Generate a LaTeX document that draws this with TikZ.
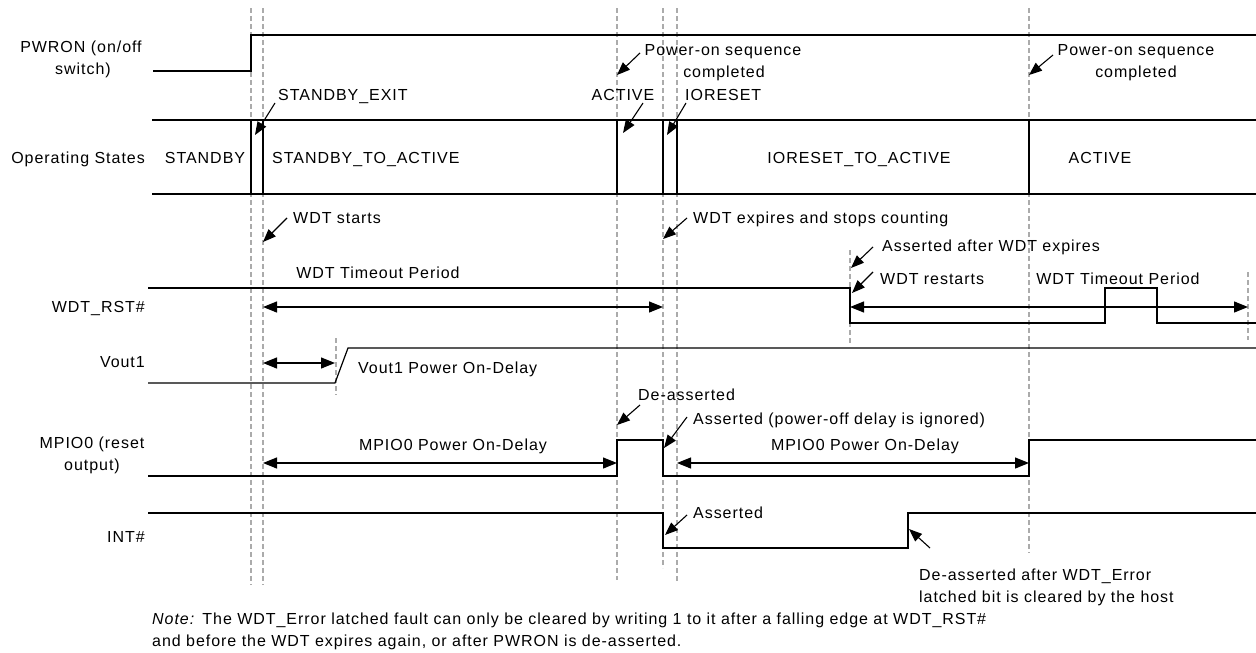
\documentclass[tikz,border=0pt]{standalone}
\usepackage{fontspec}
\setmainfont{Liberation Sans}[LetterSpace=6]
\usetikzlibrary{arrows.meta}
\begin{document}
\begin{tikzpicture}[x=1pt,y=-1pt,
  sig/.style={line width=1.2pt},
  guide/.style={draw=black!33, line width=1.3pt, dash pattern=on 5pt off 3pt},
  dim/.style={line width=1.2pt, {Triangle[length=14pt,width=11pt]}-{Triangle[length=14pt,width=11pt]}},
  pt/.style={line width=1.1pt, -{Triangle[length=13pt,width=10pt]}},
  lbl/.style={inner sep=0pt, font=\fontsize{16}{19}\selectfont, text height=11.5pt, text depth=0pt},
]
\useasboundingbox (0,0) rectangle (1256,653);

% guide lines
\draw[guide] (251,8) -- (251,585);
\draw[guide] (263,8) -- (263,585);
\draw[guide] (617,8) -- (617,580);
\draw[guide] (663,8) -- (663,568);
\draw[guide] (677,8) -- (677,583);
\draw[guide] (1029,8) -- (1029,553);
\draw[guide] (850,250) -- (850,343);
\draw[guide] (1248,272) -- (1248,340);
\draw[guide] (336,338) -- (336,395);

% signals
\draw[sig] (153,71) -- (251,71) -- (251,35) -- (1256,35);
\draw[sig] (152,120) -- (1256,120);
\draw[sig] (152,194) -- (1256,194);
\foreach \x in {251,263,617,663,677,1029} \draw[sig] (\x,120) -- (\x,194);
\draw[sig] (148,288) -- (850,288) -- (850,323) -- (1105,323) -- (1105,288) -- (1157,288) -- (1157,323) -- (1256,323);
\draw[sig] (148,383) -- (335,383) -- (348,348) -- (1256,348);
\draw[sig] (148,476) -- (617,476) -- (617,440) -- (663,440) -- (663,476) -- (1029,476) -- (1029,440) -- (1256,440);
\draw[sig] (148,513) -- (663,513) -- (663,548) -- (908,548) -- (908,513) -- (1256,513);

% dimension arrows
\draw[dim] (263,307) -- (663,307);
\draw[dim] (850,307) -- (1248,307);
\draw[dim] (263,363) -- (335,363);
\draw[dim] (263,463) -- (617,463);
\draw[dim] (677,463) -- (1029,463);

% left labels
\node[lbl] (pw1) at (81,47) {PWRON (on/off};
\node[lbl] (pw2) at (83,69) {switch)};
\node[lbl, anchor=east] (ops) at (145,158) {Operating States};
\node[lbl, anchor=east] (wdt) at (145,307) {WDT\_RST\#};
\node[lbl, anchor=east] (vo) at (145,362) {Vout1};
\node[lbl] (mp1) at (92,443) {MPIO0 (reset};
\node[lbl] (mp2) at (92,465) {output)};
\node[lbl, anchor=east] (int) at (145,537) {INT\#};

% states
\node[lbl] (s1) at (205,158) {STANDBY};
\node[lbl, anchor=west] (s2) at (272,158) {STANDBY\_TO\_ACTIVE};
\node[lbl] (s3) at (859,158) {IORESET\_TO\_ACTIVE};
\node[lbl] (s4) at (1100,158) {ACTIVE};

% annotations
\node[lbl, anchor=west] (sbx) at (278,95) {STANDBY\_EXIT};
\draw[pt] (275,103) -- (255,135);
\node[lbl] (act) at (623,95) {ACTIVE};
\draw[pt] (643,103) -- (623,133);
\node[lbl, anchor=west] (ior) at (685,95) {IORESET};
\draw[pt] (686,103) -- (667,135);
\node[lbl] (po1a) at (723,50) {Power-on sequence};
\node[lbl] (po1b) at (724,72) {completed};
\draw[pt] (640,53) -- (617,75);
\node[lbl] (po2a) at (1136,50) {Power-on sequence};
\node[lbl] (po2b) at (1136,72) {completed};
\draw[pt] (1053,55) -- (1029,75);

\node[lbl, anchor=west] (ws) at (293,218) {WDT starts};
\draw[pt] (287,218) -- (263,242);
\node[lbl, anchor=west] (we) at (693,218) {WDT expires and stops counting};
\draw[pt] (687,218) -- (663,239);
\node[lbl] (tp1) at (378,273) {WDT Timeout Period};
\node[lbl, anchor=west] (aa) at (882,246) {Asserted after WDT expires};
\draw[pt] (873,247) -- (851,268);
\node[lbl, anchor=west] (wr) at (880,279) {WDT restarts};
\draw[pt] (873,272) -- (852,293);
\node[lbl] (tp2) at (1118,279) {WDT Timeout Period};

\node[lbl, anchor=west] (vd) at (358,368) {Vout1 Power On-Delay};
\node[lbl] (md1) at (453,445) {MPIO0 Power On-Delay};
\node[lbl] (md2) at (865,445) {MPIO0 Power On-Delay};
\node[lbl, anchor=west] (de) at (638,395) {De-asserted};
\draw[pt] (640,405) -- (617,425);
\node[lbl, anchor=west] (as1) at (693,419) {Asserted (power-off delay is ignored)};
\draw[pt] (687,417) -- (664,448);
\node[lbl, anchor=west] (as2) at (693,513) {Asserted};
\draw[pt] (687,515) -- (665,535);
\node[lbl, anchor=west] (dl1) at (919,575) {De-asserted after WDT\_Error};
\node[lbl, anchor=west] (dl2) at (919,597) {latched bit is cleared by the host};
\draw[pt] (930,548) -- (909,529);

% note
\node[lbl, anchor=west] (n1) at (152,619) {\textit{Note:} The WDT\_Error latched fault can only be cleared by writing 1 to it after a falling edge at WDT\_RST\#};
\node[lbl, anchor=west] (n2) at (152,641) {and before the WDT expires again, or after PWRON is de-asserted.};
\end{tikzpicture}
\end{document}
